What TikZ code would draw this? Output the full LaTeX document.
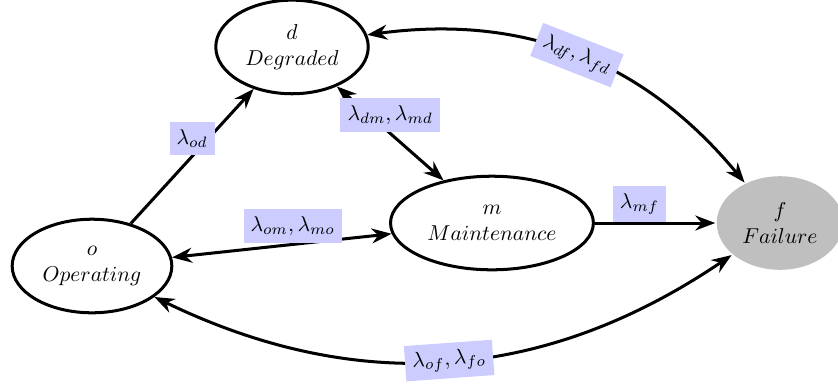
\documentclass[tikz,border=0pt]{standalone}
\usepackage{amsmath}
\usepackage{amssymb}
\usepackage{xcolor}
\usepackage{tikz}
\usetikzlibrary{
	arrows.meta,
	shapes.geometric,
	positioning
}

\begin{document}
\begin{tikzpicture}[>={Stealth}, line width=1.4pt,
		statenode/.style={ellipse, draw, line width=1.4pt, align=center, minimum height=1.53cm},
		failnode/.style={ellipse, fill=gray!50, align=center, minimum height=1.53cm},
		rate/.style={fill=blue!20}]
		\useasboundingbox (0,0) rectangle (13.70,6.294);
		% states of the chain
		\node[statenode] (o) at (1.504,1.945) {$o$\\$Operating$};
		\node[statenode] (d) at (4.774,5.526) {$d$\\$Degraded$};
		\node[statenode] (m) at (8.043,2.648) {$m$\\$Maintenance$};
		\node[failnode] (f) at (12.751,2.648) {$f$\\$Failure$};
		% transitions
		\draw[->] (o) -- node[rate, above] {$\lambda_{od}$} (d);
		\draw[<->] (d) -- node[rate, above] {$\lambda_{dm}, \lambda_{md}$} (m);
		\draw[<->] (o) -- node[rate, above, pos=0.55] {$\lambda_{om}, \lambda_{mo}$} (m);
		\draw[->] (m) -- node[rate, above, pos=0.37] {$\lambda_{mf}$} (f);
		\draw[<->] (d) to[bend left=29] node[rate, sloped] {$\lambda_{df}, \lambda_{fd}$} (f);
		\draw[<->] (o) to[bend right=30] node[rate, sloped] {$\lambda_{of}, \lambda_{fo}$} (f);
	\end{tikzpicture}
\end{document}
